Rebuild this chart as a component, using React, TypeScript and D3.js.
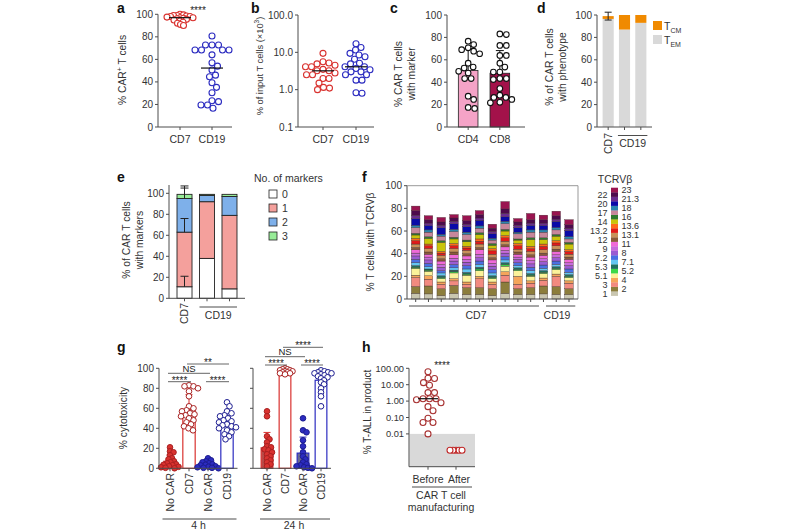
import * as d3 from 'd3';
import React from 'react';

// ---------- data ----------
// a: % CAR+ T cells
const carCD7 = [100, 99.5, 99, 99, 98.5, 98, 98, 97.5, 97, 97, 96.5, 96, 95.5, 95, 94, 93, 92, 91, 90];
const carCD19 = [80.7, 72.8, 72.8, 72.8, 68.3, 68.3, 68.3, 68.3, 64, 57, 54, 50.6, 46, 44.6, 39.3, 35.2, 30.4, 23.3, 22.5, 19.5, 19.5, 16.6];

// b: % of input T cells (x10^3)
const inputCD7 = [9.4, 5.6, 5.2, 4.9, 4.5, 4.1, 4.1, 3.5, 3.2, 3.2, 2.8, 2.5, 2.5, 2.0, 2.0, 1.5, 1.15, 1.1, 1.0];
const inputCD19 = [17, 13.5, 11.5, 9.4, 8.5, 7.6, 6.5, 5.1, 4.9, 4.1, 4.1, 3.7, 3.4, 3.0, 3.0, 2.5, 2.5, 1.8, 1.8, 0.83, 0.8];

// c: % CAR T cells with marker
const markerCD4 = [76.6, 73.6, 70.7, 69, 67.7, 65.4, 57, 53.5, 52.6, 49.7, 48.2, 43.2, 43.2, 27.5, 24.6, 17.5, 16.6];
const markerCD8 = [83.1, 82.5, 72.8, 72.8, 63.9, 63.9, 57, 53.5, 49, 49, 43.2, 43.2, 42.3, 34.3, 28.4, 26.4, 26.4, 24.6, 21.6, 22];

// d: phenotype
const phenoGroups = ['CD7', 'CD19 A', 'CD19 B'];
const temValues = [96.5, 87, 93];
const tcmValues = [2.5, 13, 7];
const tcmSD = [3.5, 0, 0];

// e: number of markers
const eGroups = ['CD7', 'CD19 A', 'CD19 B'];
const markerCounts = ['0', '1', '2', '3'];
const noMarker = [11, 38, 9];
const oneMarker = [52, 54, 70];
const twoMarkers = [32, 6, 18];
const threeMarkers = [4, 1, 2];
const cd7MarkerSD = [10, 13, 10, 8];

// f: TCRVβ repertoire
const tcrvbLabels = ['1', '2', '3', '4', '5.1', '5.2', '5.3', '7.1', '7.2', '8', '9', '11', '12', '13.1', '13.2', '13.6', '14', '16', '17', '18', '20', '21.3', '22', '23'];
const tcrvbColors = ['#c9c6b0', '#8c7d3c', '#f28a80', '#f5a55a', '#fbf29a', '#3ad84a', '#1f6f5f', '#62c6f2', '#4a6fe3', '#9b5bd2', '#c86bdc', '#f06ad8', '#8a5a3a', '#c8915a', '#e01b1b', '#ff6a1a', '#c9c40a', '#2f7a2f', '#c7879b', '#2b86b0', '#0a0aa8', '#6a2c8f', '#4d0a4d', '#9a1450'];
const tcrvbSamples = ['CD7 1', 'CD7 2', 'CD7 3', 'CD7 4', 'CD7 5', 'CD7 6', 'CD7 7', 'CD7 8', 'CD7 9', 'CD7 10', 'CD19 1', 'CD19 2', 'CD19 3'];
const tcrvbByBar = [
  [5, 6, 8, 2, 6, 1, 1.5, 2.5, 3, 3, 2.5, 3, 2, 3, 3, 2, 3, 1.5, 5, 2, 6, 3, 4, 4],
  [4.5, 7, 6, 3, 4, 1, 1, 2, 3, 3, 2.5, 2.5, 2, 3, 2.5, 1.5, 5, 1.5, 4, 2, 4, 2, 3, 3.5],
  [3, 6, 4, 2, 3, 1, 1.5, 2.5, 2, 3, 2.5, 3, 2, 3, 2, 1.5, 8, 1.5, 4, 1.5, 6, 2, 3, 4],
  [5, 7, 4, 2, 5, 1, 1.5, 2, 3, 3, 2.5, 3, 2.5, 3, 2.5, 2, 4, 1.5, 5, 2, 5, 2, 3, 3],
  [4, 6, 3, 2, 6, 1, 1.5, 3, 3, 3, 2.5, 3, 2, 3, 2, 1.5, 4, 1.5, 5, 2, 5, 2, 3, 4.5],
  [4, 6, 8, 2, 5, 1.5, 1.5, 2.5, 3, 3, 3, 4, 2, 3, 2.5, 2, 4, 1.5, 4, 2, 5, 2, 3, 3.5],
  [3, 6, 4, 2, 3, 1, 1.5, 2.5, 3, 3, 2.5, 3, 2, 3, 3, 2, 3, 1.5, 3, 1.5, 4, 2, 3, 3.5],
  [5, 10, 6, 3, 5, 1.5, 1.5, 2.5, 3, 3, 2.5, 3, 2, 3, 3, 2, 4, 1.5, 5, 2, 4, 3, 4, 6.5],
  [4, 5, 4, 7, 5, 1, 1.5, 2, 2.5, 3, 2, 2.5, 2, 2.5, 3, 2, 3, 1, 4.5, 1.5, 4, 2, 3, 3],
  [4, 6, 4, 2, 4, 1, 1.5, 2.5, 3, 3, 3, 3, 2, 3, 2.5, 2, 6, 1.5, 5, 2, 4, 2, 3, 5.5],
  [4.5, 7, 5, 2, 4, 1, 1.5, 2, 3, 3, 2.5, 3, 2, 3, 3, 2, 4, 1.5, 5, 2, 4, 2, 3, 4],
  [4, 7, 9, 2, 4, 1, 1.5, 2, 3, 3, 2.5, 3, 2, 3, 2.5, 2, 4, 1.5, 4, 2, 5.5, 2, 3, 4],
  [4, 5, 5, 2, 3, 1, 1.5, 2, 3, 3, 2.5, 3, 2, 2.5, 2.5, 1.5, 5, 1.5, 3, 2, 5.5, 2, 3, 4.5],
];

// g: % cytotoxicity
const cyto4hNoCar7 = [21, 17, 16, 13, 10, 9, 7, 6, 5, 4, 3.5, 3, 2, 1.5, 1, 0.5, 0];
const cyto4hCD7 = [83, 82, 82, 80, 77, 72, 62, 60, 58, 57, 55, 54, 53, 52, 50, 48, 46, 44, 42, 40, 38];
const cyto4hNoCar19 = [10, 8, 7, 6, 5, 4, 3.5, 3, 2, 1.5, 1, 0.5, 0.5, 0];
const cyto4hCD19 = [66, 62, 57, 55, 53, 52, 50, 48, 47, 46, 44, 43, 42, 41, 40, 38, 36, 34, 32, 29];
const cyto24hNoCar7 = [57, 52, 32, 29, 26, 22, 21, 19, 18, 16, 14, 12, 10, 8, 6, 4, 2];
const cyto24hCD7 = [100, 99, 99, 98, 98, 97, 97, 96, 96, 95, 95, 94];
const cyto24hNoCar19 = [50, 38, 36, 28, 22, 16, 12, 9, 6, 4, 3, 2, 1, 0.5, 0];
const cyto24hCD19 = [98, 97, 96, 96, 95, 95, 94, 93, 92, 91, 90, 88, 86, 84, 80, 76, 72, 62];
const cytoLabels = ['No CAR', 'CD7', 'No CAR', 'CD19'];

// h: % T-ALL in product
const tallBefore = [62, 24.5, 24, 13.3, 9.2, 3.3, 3.3, 1.4, 1.4, 1.4, 1.2, 0.8, 0.46, 0.26, 0.09, 0.05, 0.05, 0.01];
const tallAfter = [0.001, 0.001, 0.001, 0.001, 0.001];

// ---------- style ----------
const FONT = '"Liberation Sans", Arial, Helvetica, sans-serif';
const AX = '#4d4d4d';
const INK = '#333';
const RED = '#d9322f';
const BLUE = '#2c2cc0';

type Pt = { v: number; y: number; dx: number };
function swarm(values: number[], yOf: (v: number) => number, diam: number): Pt[] {
  const pts = values.map(v => ({ v, y: yOf(v), dx: 0 }));
  const placed: Pt[] = [];
  [...pts].sort((a, b) => a.y - b.y).forEach(p => {
    for (let k = 0; k < 400; k++) {
      const off = (k % 2 ? 1 : -1) * Math.ceil(k / 2) * 0.5;
      if (placed.every(q => (q.dx - off) ** 2 + (q.y - p.y) ** 2 >= diam * diam)) { p.dx = off; break; }
    }
    placed.push(p);
  });
  return pts;
}

function Dots({ values, x, y, diam, r = 3, stroke, fill = 'white', sw = 1.1 }: any) {
  return <g>{swarm(values, y, diam).map((p, i) =>
    <circle key={i} cx={x + p.dx} cy={p.y} r={r} fill={fill} stroke={stroke} strokeWidth={sw} />)}</g>;
}

function LeftAxis({ x, scale, ticks, fmt, labels = true, top, size = 10 }: any) {
  const [y0, y1] = scale.range();
  return (
    <g>
      <line x1={x} x2={x} y1={y0} y2={top ?? y1} stroke={AX} />
      {ticks.map((t: number, i: number) => (
        <g key={i}>
          <line x1={x - 3} x2={x} y1={scale(t)} y2={scale(t)} stroke={AX} />
          {labels && <text x={x - 5} y={scale(t)} dy="0.35em" textAnchor="end" fontSize={size} fill={INK}>{fmt ? fmt(t) : t}</text>}
        </g>
      ))}
    </g>
  );
}

function Baseline({ x1, x2, y, ticks }: any) {
  return (
    <g>
      <line x1={x1} x2={x2} y1={y} y2={y} stroke={AX} />
      {ticks.map((t: number, i: number) => <line key={i} x1={t} x2={t} y1={y} y2={y + 3} stroke={AX} />)}
    </g>
  );
}

function VLabel({ x, y, lines, size = 10.3 }: any) {
  return (
    <text transform={`translate(${x},${y}) rotate(-90)`} textAnchor="middle" fontSize={size} fill={INK}>
      {lines.map((l: any, i: number) => <tspan key={i} x={0} dy={i === 0 ? 0 : 12.5}>{l}</tspan>)}
    </text>
  );
}

function Letter({ x, y, ch }: any) {
  return <text x={x} y={y} fontSize={14} fontWeight={900} fill="#111">{ch}</text>;
}

function MedianLine({ x, y, w = 22 }: any) {
  return <line x1={x - w / 2} x2={x + w / 2} y1={y} y2={y} stroke="#111" strokeWidth={1.2} />;
}

// ---------- panels ----------
function PanelA() {
  const y = d3.scaleLinear().domain([0, 100]).range([127, 14.3]);
  const x = d3.scalePoint().domain(['CD7', 'CD19']).range([180, 212]);
  return (
    <g>
      <Letter x={117} y={13} ch="a" />
      <LeftAxis x={158} scale={y} ticks={d3.range(0, 101, 20)} />
      <Baseline x1={158} x2={232} y={127} ticks={[x('CD7'), x('CD19')]} />
      <Dots values={carCD7} x={x('CD7')} y={y} diam={3.2} stroke={RED} />
      <Dots values={carCD19} x={x('CD19')} y={y} diam={6.2} stroke={BLUE} />
      <MedianLine x={x('CD7')!} y={y(d3.median(carCD7)!)} />
      <MedianLine x={x('CD19')!} y={y(d3.median(carCD19)!)} />
      <text x={198} y={14} textAnchor="middle" fontSize={10} fill="#222">****</text>
      {['CD7', 'CD19'].map(k => <text key={k} x={x(k)} y={143} textAnchor="middle" fontSize={10.5} fill={INK}>{k}</text>)}
      <text transform="translate(126,70) rotate(-90)" textAnchor="middle" fontSize={10.3} fill={INK}>
        % CAR<tspan dy={-4} fontSize={7}>+</tspan><tspan dy={4}> T cells</tspan>
      </text>
    </g>
  );
}

function PanelB() {
  const y = d3.scaleLog().domain([0.1, 100]).range([127, 15]);
  const x = d3.scalePoint().domain(['CD7', 'CD19']).range([323, 356]);
  return (
    <g>
      <Letter x={251} y={13} ch="b" />
      <LeftAxis x={298} scale={y} ticks={[0.1, 1, 10, 100]} fmt={d3.format('.1f')} />
      <Baseline x1={298} x2={374} y={127} ticks={[x('CD7'), x('CD19')]} />
      <Dots values={inputCD7} x={x('CD7')} y={y} diam={6} stroke={RED} />
      <Dots values={inputCD19} x={x('CD19')} y={y} diam={6} stroke={BLUE} />
      <MedianLine x={x('CD7')!} y={y(d3.median(inputCD7)!)} />
      <MedianLine x={x('CD19')!} y={y(d3.median(inputCD19)!)} />
      {['CD7', 'CD19'].map(k => <text key={k} x={x(k)} y={143} textAnchor="middle" fontSize={10.5} fill={INK}>{k}</text>)}
      <text transform="translate(263,66) rotate(-90)" textAnchor="middle" fontSize={9.3} fill={INK}>
        % of input T cells (×10<tspan dy={-4} fontSize={6.5}>3</tspan><tspan dy={4}>)</tspan>
      </text>
    </g>
  );
}

function PanelC() {
  const y = d3.scaleLinear().domain([0, 100]).range([127, 15]);
  const x = d3.scaleBand().domain(['CD4', 'CD8']).range([452, 516]).paddingInner(0.38).paddingOuter(0.2);
  const bw = x.bandwidth();
  const sets: [string, number[], string][] = [['CD4', markerCD4, '#f5a3c7'], ['CD8', markerCD8, '#a3124a']];
  return (
    <g>
      <Letter x={390} y={13} ch="c" />
      <LeftAxis x={447} scale={y} ticks={d3.range(0, 101, 20)} />
      {sets.map(([k, vals, col]) => {
        const m = d3.mean(vals)!;
        const sd = d3.deviation(vals)!;
        const cx = x(k)! + bw / 2;
        return (
          <g key={k}>
            <rect x={x(k)} y={y(m)} width={bw} height={127 - y(m)} fill={col} stroke="#222" strokeWidth={0.8} />
            <line x1={cx} x2={cx} y1={y(m)} y2={y(m + sd)} stroke="#111" strokeWidth={1} />
            <line x1={cx - 4} x2={cx + 4} y1={y(m + sd)} y2={y(m + sd)} stroke="#111" strokeWidth={1} />
            <Dots values={vals} x={cx} y={y} diam={6.3} r={2.8} stroke="#111" />
            <text x={cx} y={143} textAnchor="middle" fontSize={10.5} fill={INK}>{k}</text>
          </g>
        );
      })}
      <Baseline x1={447} x2={525} y={127} ticks={['CD4', 'CD8'].map(k => x(k)! + bw / 2)} />
      <VLabel x={402} y={74} lines={['% CAR T cells', 'with marker']} />
    </g>
  );
}

function PanelD() {
  const y = d3.scaleLinear().domain([0, 100]).range([127, 15]);
  const x = d3.scaleBand().domain(phenoGroups).range([600, 649]).paddingInner(0.32).paddingOuter(0.16);
  const bw = x.bandwidth();
  return (
    <g>
      <Letter x={537} y={13} ch="d" />
      <LeftAxis x={597} scale={y} ticks={d3.range(0, 101, 20)} />
      {phenoGroups.map((g, i) => {
        const cx = x(g)! + bw / 2;
        const top = temValues[i] + tcmValues[i];
        return (
          <g key={g}>
            <rect x={x(g)} y={y(temValues[i])} width={bw} height={127 - y(temValues[i])} fill="#d9d9d9" />
            <rect x={x(g)} y={y(top)} width={bw} height={y(temValues[i]) - y(top)} fill="#f08a00" />
            {tcmSD[i] > 0 && (
              <g stroke="#222" strokeWidth={1}>
                <line x1={cx} x2={cx} y1={y(top - tcmSD[i])} y2={y(top + tcmSD[i])} />
                <line x1={cx - 3.5} x2={cx + 3.5} y1={y(top + tcmSD[i])} y2={y(top + tcmSD[i])} />
                <line x1={cx - 3.5} x2={cx + 3.5} y1={y(top - tcmSD[i])} y2={y(top - tcmSD[i])} />
              </g>
            )}
          </g>
        );
      })}
      <Baseline x1={597} x2={652} y={127} ticks={phenoGroups.map(g => x(g)! + bw / 2)} />
      <text transform={`translate(${x('CD7')! + bw / 2 + 3.5},133) rotate(-90)`} textAnchor="end" fontSize={10.5} fill={INK}>CD7</text>
      <line x1={x('CD19 A')! - 1} x2={x('CD19 B')! + bw + 1} y1={135.5} y2={135.5} stroke={AX} />
      <text x={(x('CD19 A')! + x('CD19 B')! + bw) / 2} y={147} textAnchor="middle" fontSize={10.5} fill={INK}>CD19</text>
      <VLabel x={553} y={67} lines={['% of CAR T cells', 'with phenotype']} />
      <rect x={653} y={21} width={9} height={9} fill="#f08a00" />
      <text x={664} y={30} fontSize={10.5} fill={INK}>T<tspan dy={2.5} fontSize={7}>CM</tspan></text>
      <rect x={653} y={35} width={9} height={9} fill="#d9d9d9" />
      <text x={664} y={44} fontSize={10.5} fill={INK}>T<tspan dy={2.5} fontSize={7}>EM</tspan></text>
    </g>
  );
}

function PanelE() {
  const y = d3.scaleLinear().domain([0, 100]).range([298.3, 193.3]);
  const x = d3.scaleBand().domain(eGroups).range([173.25, 240.75]).paddingInner(0.333).paddingOuter(0.167);
  const bw = x.bandwidth();
  const colors = ['#ffffff', '#f4a09c', '#7eb0ea', '#98ec98'];
  const table = eGroups.map((g, i) => ({ g, '0': noMarker[i], '1': oneMarker[i], '2': twoMarkers[i], '3': threeMarkers[i] }));
  const series = d3.stack<any>().keys(markerCounts)(table);
  return (
    <g>
      <Letter x={117} y={182} ch="e" />
      {series.map((s, si) => s.map((d, i) => (
        <rect key={`${si}-${i}`} x={x(eGroups[i])} y={y(d[1])} width={bw} height={y(d[0]) - y(d[1])}
          fill={colors[si]} stroke="#222" strokeWidth={0.9} />
      )))}
      {series.map((s, si) => {
        const cx = x('CD7')! + bw / 2;
        const top = s[0][1];
        return (
          <g key={si} stroke="#222" strokeWidth={1}>
            <line x1={cx} x2={cx} y1={y(top)} y2={y(top + cd7MarkerSD[si])} />
            <line x1={cx - 4} x2={cx + 4} y1={y(top + cd7MarkerSD[si])} y2={y(top + cd7MarkerSD[si])} />
          </g>
        );
      })}
      <LeftAxis x={169} scale={y} ticks={d3.range(0, 101, 20)} top={185} />
      <Baseline x1={169} x2={245} y={298.3} ticks={eGroups.map(g => x(g)! + bw / 2)} />
      <text transform={`translate(${x('CD7')! + bw / 2 + 3.5},303) rotate(-90)`} textAnchor="end" fontSize={10.5} fill={INK}>CD7</text>
      <line x1={x('CD19 A')!} x2={x('CD19 B')! + bw} y1={307} y2={307} stroke={AX} />
      <text x={(x('CD19 A')! + x('CD19 B')! + bw) / 2} y={319} textAnchor="middle" fontSize={10.5} fill={INK}>CD19</text>
      <VLabel x={130} y={240} lines={['% of CAR T cells', 'with markers']} />
      <text x={254} y={182} fontSize={10.5} fill={INK}>No. of markers</text>
      {markerCounts.map((m, i) => (
        <g key={m}>
          <rect x={269} y={190 + i * 14} width={8} height={8} fill={colors[i]} stroke="#222" strokeWidth={0.8} />
          <text x={282} y={198 + i * 14} fontSize={10.5} fill={INK}>{m}</text>
        </g>
      ))}
    </g>
  );
}

function PanelF() {
  const y = d3.scaleLinear().domain([0, 100]).range([299, 185.7]);
  const x = d3.scaleBand().domain(tcrvbSamples).range([409.3, 575.4]).paddingInner(0.33).paddingOuter(0.165);
  const bw = x.bandwidth();
  const table = tcrvbSamples.map((s, i) => {
    const row: any = { id: s };
    tcrvbLabels.forEach((k, j) => { row[k] = tcrvbByBar[i][j]; });
    return row;
  });
  const series = d3.stack<any>().keys(tcrvbLabels)(table);
  const leg = d3.scaleBand().domain(tcrvbLabels).range([295.7, 187.7]);
  const cd7 = tcrvbSamples.filter(s => s.startsWith('CD7'));
  const cd19 = tcrvbSamples.filter(s => s.startsWith('CD19'));
  return (
    <g>
      <Letter x={362} y={182} ch="f" />
      {series.map((s, si) => s.map((d, i) => (
        <rect key={`${si}-${i}`} x={x(tcrvbSamples[i])} y={y(d[1])} width={bw} height={y(d[0]) - y(d[1])}
          fill={tcrvbColors[si]} stroke="#3a2a2a" strokeWidth={0.35} />
      )))}
      <LeftAxis x={407} scale={y} ticks={d3.range(0, 101, 20)} />
      <line x1={407} x2={578} y1={185.7} y2={185.7} stroke="#999" />
      <line x1={578} x2={578} y1={185.7} y2={299} stroke="#999" />
      <Baseline x1={407} x2={578} y={299} ticks={tcrvbSamples.map(s => x(s)! + bw / 2)} />
      <line x1={409} x2={x(cd7[cd7.length - 1])! + bw + 4} y1={306} y2={306} stroke={AX} />
      <line x1={x(cd19[0])! + bw * 0.8} x2={x(cd19[cd19.length - 1])! + bw + 2} y1={306} y2={306} stroke={AX} />
      <text x={476} y={319} textAnchor="middle" fontSize={10.5} fill={INK}>CD7</text>
      <text x={557} y={319} textAnchor="middle" fontSize={10.5} fill={INK}>CD19</text>
      <VLabel x={374} y={242} lines={['% T cells with TCRVβ']} />
      <text x={615} y={183} textAnchor="middle" fontSize={10.5} fill={INK}>TCRVβ</text>
      {tcrvbLabels.map((l, i) => (
        <g key={l}>
          <rect x={611} y={leg(l)} width={7} height={leg.bandwidth() + 0.2} fill={tcrvbColors[i]} />
          <text x={i % 2 === 0 ? 607.5 : 621.5} y={leg(l)! + leg.bandwidth() / 2} dy="0.35em"
            textAnchor={i % 2 === 0 ? 'end' : 'start'} fontSize={9} fill={INK}>{l}</text>
        </g>
      ))}
    </g>
  );
}

function CytoGroup({ x0, x1, axisX, sets, labels, sig, caption }: any) {
  const y = d3.scaleLinear().domain([0, 100]).range([468.3, 368.3]);
  const keys = ['a', 'b', 'c', 'd'];
  const x = d3.scaleBand().domain(keys).range([x0, x1]).paddingInner(0.35).paddingOuter(0.175);
  const bw = x.bandwidth();
  const cx = (k: string) => x(k)! + bw / 2;
  return (
    <g>
      {sets.map((s: any, i: number) => {
        const k = keys[i];
        const m = d3.mean(s.values as number[])!;
        const sd = d3.deviation(s.values as number[])!;
        return (
          <g key={k}>
            <rect x={x(k)} y={y(m)} width={bw} height={468.3 - y(m)} fill={s.barFill} stroke={s.color} strokeWidth={1.2} />
            <g stroke={s.color} strokeWidth={1}>
              <line x1={cx(k)} x2={cx(k)} y1={y(Math.max(0, m - sd))} y2={y(m + sd)} />
              <line x1={cx(k) - 3.5} x2={cx(k) + 3.5} y1={y(m + sd)} y2={y(m + sd)} />
            </g>
            <Dots values={s.values} x={cx(k)} y={y} diam={s.diam} r={2.8}
              stroke={s.dotStroke} fill={s.filled ? s.color : 'white'} sw={1} />
            <text transform={`translate(${cx(k) + 3.5},473) rotate(-90)`} textAnchor="end" fontSize={10.5} fill={INK}>{labels[i]}</text>
          </g>
        );
      })}
      <LeftAxis x={axisX} scale={y} ticks={d3.range(0, 101, 20)} labels={axisX < 200} />
      <Baseline x1={axisX} x2={x1 + 1} y={468.3} ticks={keys.map(cx)} />
      {sig.map(([a, b, txt, ly]: any, i: number) => (
        <g key={i}>
          <line x1={cx(a) - 2} x2={cx(b) + 2} y1={ly} y2={ly} stroke="#555" strokeWidth={0.9} />
          <text x={(cx(a) + cx(b)) / 2} y={ly - (txt === 'NS' ? 1.5 : -2)} textAnchor="middle" fontSize={txt === 'NS' ? 9.5 : 10} fill="#222">{txt}</text>
        </g>
      ))}
      <line x1={x0 + 2} x2={x1} y1={519} y2={519} stroke={AX} />
      <text x={(x0 + x1) / 2} y={529} textAnchor="middle" fontSize={10.5} fill={INK}>{caption}</text>
    </g>
  );
}

function PanelG() {
  const red = { color: RED, dotStroke: '#a82020' };
  const blue = { color: BLUE, dotStroke: '#1c1c90' };
  const sets4 = [
    { ...red, values: cyto4hNoCar7, filled: true, barFill: '#b94a47', diam: 3.4 },
    { ...red, values: cyto4hCD7, filled: false, barFill: 'white', diam: 4.6 },
    { ...blue, values: cyto4hNoCar19, filled: true, barFill: '#6a6a8e', diam: 3.4 },
    { ...blue, values: cyto4hCD19, filled: false, barFill: 'white', diam: 4.6 },
  ];
  const sets24 = [
    { ...red, values: cyto24hNoCar7, filled: true, barFill: '#b94a47', diam: 3.8 },
    { ...red, values: cyto24hCD7, filled: false, barFill: 'white', diam: 2.6 },
    { ...blue, values: cyto24hNoCar19, filled: true, barFill: '#6a6a8e', diam: 3.8 },
    { ...blue, values: cyto24hCD19, filled: false, barFill: 'white', diam: 3.6 },
  ];
  return (
    <g>
      <Letter x={117} y={352} ch="g" />
      <CytoGroup x0={160.5} x1={236.5} axisX={159} sets={sets4} labels={cytoLabels} caption="4 h"
        sig={[['a', 'b', '****', 381.7], ['c', 'd', '****', 381.7], ['a', 'c', 'NS', 373.3], ['b', 'd', '**', 364]]} />
      <CytoGroup x0={258} x1={330} axisX={253} sets={sets24} labels={cytoLabels} caption="24 h"
        sig={[['a', 'b', '****', 365], ['c', 'd', '****', 365], ['a', 'c', 'NS', 356.7], ['b', 'd', '****', 347.3]]} />
      <VLabel x={127} y={418} lines={['% cytotoxicity']} />
    </g>
  );
}

function PanelH() {
  const y = d3.scaleLog().domain([1e-4, 100]).range([466.7, 368.3]);
  const x = d3.scalePoint().domain(['Before', 'After']).range([428, 456]);
  return (
    <g>
      <Letter x={362} y={352} ch="h" />
      <rect x={409.5} y={y(0.01)} width={65.5} height={466.7 - y(0.01)} fill="#d9d9d9" />
      <LeftAxis x={409} scale={y} ticks={[0.01, 0.1, 1, 10, 100]} fmt={d3.format('.2f')} size={9.3} />
      <Baseline x1={409} x2={475} y={466.7} ticks={[x('Before'), x('After')]} />
      <Dots values={tallBefore} x={x('Before')} y={y} diam={6.2} stroke="#a83232" />
      <Dots values={tallAfter} x={x('After')} y={y} diam={3} stroke="#c02828" />
      <MedianLine x={x('Before')!} y={y(d3.median(tallBefore)!)} w={20} />
      <text x={442} y={369} textAnchor="middle" fontSize={10} fill="#222">****</text>
      <text x={428} y={483} textAnchor="middle" fontSize={10.5} fill={INK}>Before</text>
      <text x={459} y={483} textAnchor="middle" fontSize={10.5} fill={INK}>After</text>
      <line x1={412} x2={472} y1={487} y2={487} stroke={AX} />
      <text x={441} y={499} textAnchor="middle" fontSize={10.5} fill={INK}>CAR T cell</text>
      <text x={441} y={511} textAnchor="middle" fontSize={10.5} fill={INK}>manufacturing</text>
      <VLabel x={371} y={412} lines={['% T-ALL in product']} size={10} />
    </g>
  );
}

const App: React.FC = () => (
  <svg width={800} height={530} style={{ position: 'absolute', left: 0, top: 0, fontFamily: FONT }}>
    <rect width={800} height={530} fill="white" />
    <PanelA />
    <PanelB />
    <PanelC />
    <PanelD />
    <PanelE />
    <PanelF />
    <PanelG />
    <PanelH />
  </svg>
);

export default App;
